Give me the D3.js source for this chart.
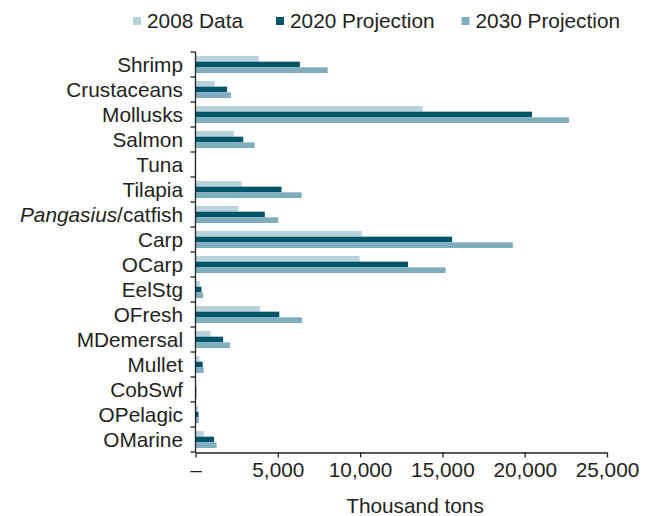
<!DOCTYPE html>
<html>
<head>
<meta charset="utf-8">
<script src="https://cdn.jsdelivr.net/npm/d3@7/dist/d3.min.js"></script>
<style>
  html, body { margin: 0; padding: 0; background: #fff; }
  svg { display: block; font-family: "Liberation Sans", Arial, Helvetica, sans-serif; }
</style>
</head>
<body>
<svg id="chart" width="656" height="516"></svg>
<script>
const categories = ["Shrimp", "Crustaceans", "Mollusks", "Salmon", "Tuna", "Tilapia",
  "Pangasius/catfish", "Carp", "OCarp", "EelStg", "OFresh", "MDemersal", "Mullet",
  "CobSwf", "OPelagic", "OMarine"];
const seriesNames = ["2008 Data", "2020 Projection", "2030 Projection"];
const data2008 = [3830, 1170, 13800, 2330, 0, 2800, 2610, 10100, 9970, 260, 3910, 910, 240, 30, 160, 500];
const data2020 = [6340, 1920, 20440, 2900, 0, 5230, 4210, 15590, 12910, 360, 5090, 1680, 440, 50, 180, 1130];
const data2030 = [8030, 2150, 22690, 3590, 0, 6450, 5030, 19280, 15200, 460, 6470, 2090, 500, 70, 200, 1280];
const xTicks = [0, 5000, 10000, 15000, 20000, 25000];
const xTickLabels = ["–", "5,000", "10,000", "15,000", "20,000", "25,000"];
const colors = ["#b8d2dc", "#00546a", "#80adbd"];

const FS = 20.8;
const svg = d3.select("#chart");
const x = d3.scaleLinear().domain([0, 25000]).range([195.5, 607]);
const y = d3.scaleBand().domain(categories).range([52, 452]).padding(0);
const sub = d3.scaleBand().domain(seriesNames).range([4, 21]).padding(0);

const allSeries = [data2008, data2020, data2030];

const g = svg.append("g");
categories.forEach((c, i) => {
  seriesNames.forEach((s, j) => {
    g.append("rect")
      .attr("x", x(0))
      .attr("y", y(c) + sub(s))
      .attr("width", Math.max(0, x(allSeries[j][i]) - x(0)))
      .attr("height", sub.bandwidth())
      .attr("fill", colors[j]);
  });
});

// Y axis
const yAxisG = svg.append("g").attr("transform", `translate(${x(0)},0)`);
yAxisG.append("line").attr("x1", 0).attr("x2", 0).attr("y1", 52).attr("y2", 452.5)
  .attr("stroke", "#222").attr("stroke-width", 1.3);
const boundaries = categories.map(c => y(c)).concat([452]);
boundaries.forEach(b => {
  yAxisG.append("line").attr("x1", -5).attr("x2", 0).attr("y1", b).attr("y2", b)
    .attr("stroke", "#222").attr("stroke-width", 1.3);
});
categories.forEach(c => {
  const t = yAxisG.append("text")
    .attr("x", -12.5)
    .attr("y", y(c) + y.bandwidth() / 2)
    .attr("dy", "0.36em")
    .attr("text-anchor", "end")
    .attr("font-size", FS)
    .attr("fill", "#231f20");
  if (c.startsWith("Pangasius")) {
    t.append("tspan").attr("font-style", "italic").text("Pangasius");
    t.append("tspan").text("/catfish");
  } else {
    t.text(c);
  }
});

// X axis
const xAxis = d3.axisBottom(x).tickValues(xTicks).tickFormat((d, i) => xTickLabels[i])
  .tickSize(5).tickSizeOuter(0).tickPadding(6);
const xAxisG = svg.append("g").attr("transform", "translate(0,452.5)").call(xAxis);
xAxisG.select(".domain").attr("stroke", "#222").attr("stroke-width", 1.3);
xAxisG.selectAll(".tick line").attr("stroke", "#222").attr("stroke-width", 1.3);
xAxisG.selectAll(".tick text").attr("font-size", FS).attr("fill", "#231f20")
  .attr("font-family", "Liberation Sans, Arial, sans-serif")
  .attr("y", 24.5).attr("dy", 0);

svg.append("text")
  .attr("x", 415)
  .attr("y", 512.5)
  .attr("text-anchor", "middle")
  .attr("font-size", FS)
  .attr("fill", "#231f20")
  .text("Thousand tons");

// Legend
const legendX = [133, 276, 461.5];
seriesNames.forEach((s, j) => {
  svg.append("rect").attr("x", legendX[j]).attr("y", 17).attr("width", 8).attr("height", 8)
    .attr("fill", colors[j]);
  svg.append("text").attr("x", legendX[j] + 14).attr("y", 28)
    .attr("font-size", FS).attr("fill", "#231f20").text(s);
});
</script>
</body>
</html>
